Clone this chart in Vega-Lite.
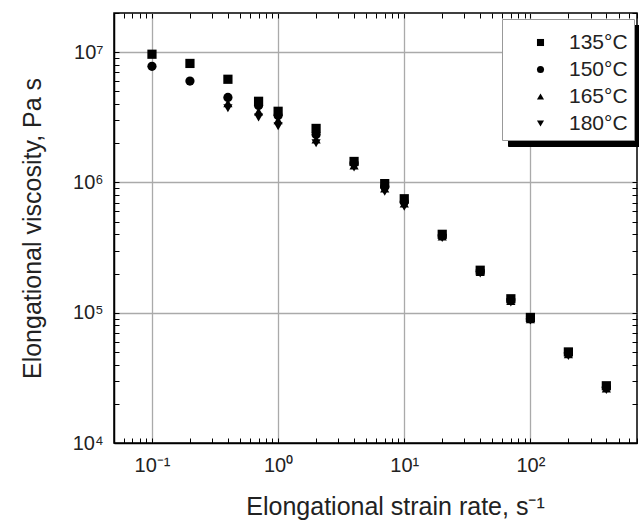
{
  "$schema": "https://vega.github.io/schema/vega-lite/v6.json",
  "width": 523,
  "height": 430,
  "autosize": "none",
  "padding": {"left": 114, "top": 13, "right": 2, "bottom": 85},
  "background": "white",
  "config": {
    "font": "Liberation Sans",
    "view": {"stroke": "black", "strokeWidth": 1.5},
    "axis": {"labelFont": "Liberation Sans", "titleFont": "Liberation Sans", "labelColor": "#222", "titleColor": "#222", "titleFontWeight": "normal", "domainColor": "black", "tickColor": "black", "domainWidth": 1.5}
  },
  "data": {"values": [
    {"rate": 0.1, "visc": 9650000, "temp": "135°C"},
    {"rate": 0.2, "visc": 8200000, "temp": "135°C"},
    {"rate": 0.4, "visc": 6200000, "temp": "135°C"},
    {"rate": 0.7, "visc": 4200000, "temp": "135°C"},
    {"rate": 1, "visc": 3520000, "temp": "135°C"},
    {"rate": 2, "visc": 2600000, "temp": "135°C"},
    {"rate": 4, "visc": 1450000, "temp": "135°C"},
    {"rate": 7, "visc": 980000, "temp": "135°C"},
    {"rate": 10, "visc": 750000, "temp": "135°C"},
    {"rate": 20, "visc": 400000, "temp": "135°C"},
    {"rate": 40, "visc": 212000, "temp": "135°C"},
    {"rate": 70, "visc": 128000, "temp": "135°C"},
    {"rate": 100, "visc": 92000, "temp": "135°C"},
    {"rate": 200, "visc": 50000, "temp": "135°C"},
    {"rate": 400, "visc": 27500, "temp": "135°C"},
    {"rate": 0.1, "visc": 7800000, "temp": "150°C"},
    {"rate": 0.2, "visc": 6000000, "temp": "150°C"},
    {"rate": 0.4, "visc": 4500000, "temp": "150°C"},
    {"rate": 0.7, "visc": 3900000, "temp": "150°C"},
    {"rate": 1, "visc": 3270000, "temp": "150°C"},
    {"rate": 2, "visc": 2340000, "temp": "150°C"},
    {"rate": 4, "visc": 1410000, "temp": "150°C"},
    {"rate": 7, "visc": 930000, "temp": "150°C"},
    {"rate": 10, "visc": 710000, "temp": "150°C"},
    {"rate": 20, "visc": 390000, "temp": "150°C"},
    {"rate": 40, "visc": 208000, "temp": "150°C"},
    {"rate": 70, "visc": 125000, "temp": "150°C"},
    {"rate": 100, "visc": 90000, "temp": "150°C"},
    {"rate": 200, "visc": 49000, "temp": "150°C"},
    {"rate": 400, "visc": 26800, "temp": "150°C"},
    {"rate": 0.4, "visc": 4050000, "temp": "165°C"},
    {"rate": 0.7, "visc": 3500000, "temp": "165°C"},
    {"rate": 1, "visc": 3000000, "temp": "165°C"},
    {"rate": 2, "visc": 2140000, "temp": "165°C"},
    {"rate": 4, "visc": 1350000, "temp": "165°C"},
    {"rate": 7, "visc": 900000, "temp": "165°C"},
    {"rate": 10, "visc": 690000, "temp": "165°C"},
    {"rate": 20, "visc": 385000, "temp": "165°C"},
    {"rate": 40, "visc": 205000, "temp": "165°C"},
    {"rate": 70, "visc": 123000, "temp": "165°C"},
    {"rate": 100, "visc": 89000, "temp": "165°C"},
    {"rate": 200, "visc": 48000, "temp": "165°C"},
    {"rate": 400, "visc": 26200, "temp": "165°C"},
    {"rate": 0.4, "visc": 3710000, "temp": "180°C"},
    {"rate": 0.7, "visc": 3160000, "temp": "180°C"},
    {"rate": 1, "visc": 2700000, "temp": "180°C"},
    {"rate": 2, "visc": 2000000, "temp": "180°C"},
    {"rate": 4, "visc": 1300000, "temp": "180°C"},
    {"rate": 7, "visc": 850000, "temp": "180°C"},
    {"rate": 10, "visc": 650000, "temp": "180°C"},
    {"rate": 20, "visc": 375000, "temp": "180°C"},
    {"rate": 40, "visc": 200000, "temp": "180°C"},
    {"rate": 70, "visc": 120000, "temp": "180°C"},
    {"rate": 100, "visc": 87000, "temp": "180°C"},
    {"rate": 200, "visc": 46500, "temp": "180°C"},
    {"rate": 400, "visc": 25500, "temp": "180°C"}
  ]},
  "resolve": {"axis": {"x": "independent", "y": "independent"}, "legend": {"shape": "independent"}},
  "layer": [
    {
      "mark": {"type": "point", "filled": true, "opacity": 0},
      "encoding": {
        "x": {"field": "rate", "type": "quantitative",
          "scale": {"type": "log", "domain": [0.05, 700], "nice": false},
          "axis": {"orient": "top", "title": null, "labels": false, "grid": false, "domain": false, "tickSize": -5, "tickWidth": 1,
            "values": [0.05,0.06,0.07,0.08,0.09,0.1,0.2,0.3,0.4,0.5,0.6,0.7,0.8,0.9,1,2,3,4,5,6,7,8,9,10,20,30,40,50,60,70,80,90,100,200,300,400,500,600,700]}},
        "y": {"field": "visc", "type": "quantitative",
          "scale": {"type": "log", "domain": [10000, 20000000], "nice": false},
          "axis": {"orient": "right", "title": null, "labels": false, "grid": false, "domain": false, "tickSize": -5, "tickWidth": 1,
            "values": [10000,20000,30000,40000,50000,60000,70000,80000,90000,100000,200000,300000,400000,500000,600000,700000,800000,900000,1000000,2000000,3000000,4000000,5000000,6000000,7000000,8000000,9000000,10000000,20000000]}},
        "shape": {"field": "temp", "type": "nominal",
          "scale": {"domain": ["135°C", "150°C", "165°C", "180°C"], "range": ["square", "circle", "triangle-up", "triangle-down"]},
          "legend": {"orient": "none", "legendX": 394, "legendY": 12, "title": " ", "titleFontSize": 2, "titlePadding": 5, "fillColor": "black", "strokeColor": "black",
            "padding": 6, "rowPadding": 5, "symbolSize": 50, "symbolFillColor": "black", "symbolStrokeColor": "black", "symbolOffset": 22,
            "labelFontSize": 21, "labelColor": "black", "labelOffset": 77, "labelExpr": "''", "labelFont": "Liberation Sans"}}
      }
    },
    {
      "mark": {"type": "point", "filled": true, "opacity": 1, "color": "black", "size": 85},
      "encoding": {
        "x": {"field": "rate", "type": "quantitative",
          "scale": {"type": "log", "domain": [0.05, 700], "nice": false},
          "axis": {"orient": "bottom", "title": "Elongational strain rate, s⁻¹", "titleFontSize": 25, "titleX": 281, "titleY": 63, "titleBaseline": "middle",
            "labelFontSize": 20, "labelPadding": 17, "tickSize": -5, "tickWidth": 1, "domain": true,
            "values": [0.05,0.06,0.07,0.08,0.09,0.1,0.2,0.3,0.4,0.5,0.6,0.7,0.8,0.9,1,2,3,4,5,6,7,8,9,10,20,30,40,50,60,70,80,90,100,200,300,400,500,600,700],
            "labelExpr": "datum.value == 0.1 ? '10⁻¹' : datum.value == 1 ? '10⁰' : datum.value == 10 ? '10¹' : datum.value == 100 ? '10²' : ''",
            "grid": true, "gridColor": "#aaa", "gridWidth": 1.3,
            "gridOpacity": {"condition": {"test": "datum.value == 0.1 || datum.value == 1 || datum.value == 10 || datum.value == 100", "value": 1}, "value": 0}}},
        "y": {"field": "visc", "type": "quantitative",
          "scale": {"type": "log", "domain": [10000, 20000000], "nice": false},
          "axis": {"orient": "left", "title": "Elongational viscosity, Pa s", "titleFontSize": 25, "titleX": -82, "titleBaseline": "middle",
            "labelFontSize": 20, "labelPadding": 16, "tickSize": -5, "tickWidth": 1, "domain": true,
            "values": [10000,20000,30000,40000,50000,60000,70000,80000,90000,100000,200000,300000,400000,500000,600000,700000,800000,900000,1000000,2000000,3000000,4000000,5000000,6000000,7000000,8000000,9000000,10000000,20000000],
            "labelExpr": "datum.value == 10000 ? '10⁴' : datum.value == 100000 ? '10⁵' : datum.value == 1000000 ? '10⁶' : datum.value == 10000000 ? '10⁷' : ''",
            "grid": true, "gridColor": "#aaa", "gridWidth": 1.3,
            "gridOpacity": {"condition": {"test": "datum.value == 100000 || datum.value == 1000000 || datum.value == 10000000", "value": 1}, "value": 0}}},
        "shape": {"field": "temp", "type": "nominal",
          "scale": {"domain": ["135°C", "150°C", "165°C", "180°C"], "range": ["square", "circle", "triangle-up", "triangle-down"]},
          "legend": {"orient": "none", "legendX": 388, "legendY": 6, "title": " ", "titleFontSize": 2, "titlePadding": 5, "fillColor": "white", "strokeColor": "#999",
            "padding": 6, "rowPadding": 5, "symbolSize": 50, "symbolFillColor": "black", "symbolStrokeColor": "black", "symbolOffset": 22,
            "labelFontSize": 21, "labelColor": "#222", "labelOffset": 18, "labelFont": "Liberation Sans"}}
      }
    }
  ]
}
